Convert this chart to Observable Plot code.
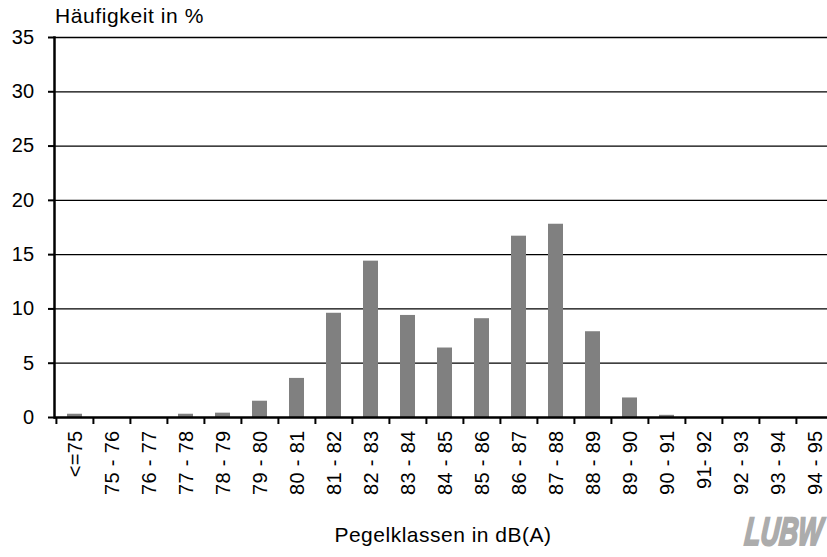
<!DOCTYPE html>
<html><head><meta charset="utf-8">
<script src="https://cdn.jsdelivr.net/npm/d3@7"></script>
<script src="https://cdn.jsdelivr.net/npm/@observablehq/plot@0.6"></script>
<style>
body{margin:0;background:#fff;}
#wrap{position:relative;width:827px;height:557px;overflow:hidden;font-family:"Liberation Sans",Arial,sans-serif;color:#000;}
#chart{position:absolute;left:0;top:0;}
#title{position:absolute;left:55px;top:5px;font-size:21px;line-height:21px;letter-spacing:0.6px;white-space:nowrap;}
#xlabel{position:absolute;left:0;width:886px;top:524px;font-size:21px;line-height:21px;letter-spacing:0.5px;text-align:center;white-space:nowrap;}
#logo{position:absolute;right:6px;top:516px;font-size:36px;line-height:36px;font-weight:bold;font-style:italic;color:#acacac;-webkit-text-stroke:2px #acacac;transform:scale(0.72,1.1) skewX(-8deg);transform-origin:right bottom;white-space:nowrap;}
#chart svg text{letter-spacing:0.3px;}
</style>
</head><body>
<div id="wrap">
  <div id="chart"></div>
  <div id="title">Häufigkeit in %</div>
  <div id="xlabel">Pegelklassen in dB(A)</div>
  <div id="logo">LUBW</div>
</div>
<script>
const categories = ["<=75","75 - 76","76 - 77","77 - 78","78 - 79","79 - 80","80 - 81","81 - 82","82 - 83","83 - 84","84 - 85","85 - 86","86 - 87","87 - 88","88 - 89","89 - 90","90 - 91","91- 92","92 - 93","93 - 94","94 - 95"];
const values = [0.3,0,0,0.3,0.4,1.5,3.6,9.6,14.4,9.4,6.4,9.1,16.7,17.8,7.9,1.8,0.2,0,0,0,0];
const yTicks = [0,5,10,15,20,25,30,35];

const data = categories.map((c, i) => ({cat: c, value: values[i]}));
const rangeX = [54, 54 + 37.18 * categories.length];
const step = (rangeX[1] - rangeX[0]) / categories.length;

const chart = Plot.plot({
  width: 827,
  height: 557,
  marginLeft: 54,
  marginRight: 0,
  marginTop: 37,
  marginBottom: 140,
  style: {fontFamily: "'Liberation Sans', Arial, sans-serif", fontSize: "20px", color: "#000", background: "transparent"},
  x: {domain: categories, range: rangeX, paddingInner: 0.6, paddingOuter: 0.3, label: null},
  y: {domain: [0, 35], label: null},
  marks: [
    Plot.ruleY(yTicks.filter(v => v > 0), {stroke: "#000", strokeWidth: 1.3}),
    Plot.barY(data, {x: "cat", y: "value", fill: "#808080"}),
    Plot.ruleY([0], {stroke: "#000", strokeWidth: 2.5}),
    Plot.frame({anchor: "left", stroke: "#000", strokeWidth: 2.5}),
    Plot.axisY({ticks: yTicks, tickSize: 6, tickPadding: 14, strokeWidth: 2, label: null, fontSize: 20}),
    Plot.axisX({tickSize: 7, tickFormat: () => "", dx: -step / 2, strokeWidth: 2, label: null}),
    Plot.axisX({tickSize: 0, tickRotate: -90, tickPadding: 13, label: null, fontSize: 20, dx: 1})
  ]
});
document.getElementById("chart").appendChild(chart);
</script>
</body></html>
